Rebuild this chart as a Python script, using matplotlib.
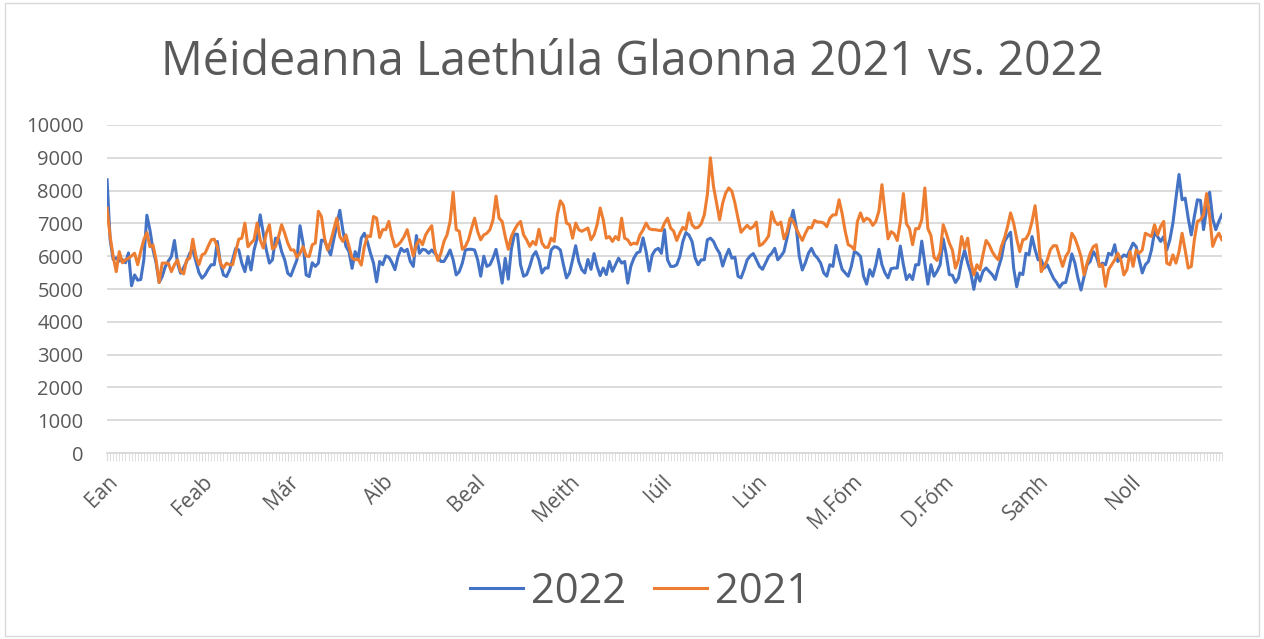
import matplotlib
matplotlib.use("Agg")
import matplotlib.pyplot as plt
from matplotlib.patches import Rectangle

# daily call volumes (day 0 = 1 Jan)
calls_2022 = [
    8330, 6500, 5900, 5950, 5850, 5900, 5800, 6100, 5100, 5430,
    5270, 5290, 5890, 7250, 6800, 6200, 5800, 5200, 5380, 5680,
    5850, 5990, 6480, 5790, 5480, 5650, 5840, 6090, 6190, 5840,
    5500, 5330, 5430, 5600, 5740, 5740, 6450, 5790, 5430, 5380,
    5580, 5900, 6240, 6190, 5790, 5530, 5990, 5580, 6190, 6550,
    7260, 6700, 6190, 5790, 5890, 6550, 6530, 6140, 5890, 5480,
    5400, 5650, 5890, 6930, 6400, 5430, 5380, 5800, 5690, 5790,
    6490, 6470, 6240, 6040, 6500, 6960, 7400, 6780, 6300, 6140,
    5630, 6140, 5940, 6550, 6700, 6440, 6090, 5790, 5220, 5840,
    5740, 6010, 5970, 5810, 5590, 5990, 6240, 6140, 6210, 5840,
    5690, 6630, 6090, 6210, 6190, 6090, 6190, 6090, 5990, 5840,
    5840, 6000, 6190, 5890, 5430, 5530, 5790, 6190, 6210, 6210,
    6190, 5890, 5390, 6000, 5690, 5740, 5940, 6210, 5740, 5180,
    5940, 5300, 6210, 6670, 6670, 5740, 5390, 5440, 5690, 6010,
    6140, 5890, 5490, 5640, 5640, 6190, 6290, 6270, 6190, 5740,
    5340, 5490, 5890, 6320, 5840, 5590, 5490, 5900, 5600, 6080,
    5690, 5410, 5640, 5440, 5840, 5540, 5740, 5940, 5790, 5840,
    5180, 5690, 5940, 6100, 6140, 6560, 6140, 5550, 6040, 6190,
    6240, 6090, 6810, 5890, 5690, 5690, 5740, 5990, 6450, 6720,
    6640, 6450, 5950, 5740, 5890, 5890, 6500, 6550, 6450, 6240,
    6090, 5700, 5990, 6210, 5940, 5970, 5390, 5340, 5590, 5890,
    6010, 6080, 5890, 5690, 5600, 5790, 5990, 6090, 6240, 5890,
    6000, 6140, 6550, 7000, 7400, 6900, 6000, 5580, 5800, 6090,
    6240, 6040, 5940, 5790, 5490, 5390, 5740, 5690, 6330, 5940,
    5600, 5490, 5390, 5690, 6140, 6090, 5990, 5390, 5150, 5590,
    5390, 5740, 6210, 5740, 5490, 5340, 5620, 5640, 5640, 6310,
    5740, 5290, 5440, 5290, 5740, 5740, 6460, 5790, 5150, 5740,
    5390, 5540, 5740, 6530, 6040, 5440, 5420, 5200, 5340, 5840,
    6180, 5790, 5490, 4990, 5490, 5240, 5540, 5640, 5540, 5440,
    5290, 5640, 5940, 6450, 6600, 6730, 5640, 5070, 5490, 5440,
    6090, 6040, 6600, 6200, 5890, 5890, 5640, 5740, 5530, 5330,
    5200, 5050, 5180, 5200, 5590, 6070, 5790, 5330, 4970, 5380,
    5740, 5840, 6140, 5990, 5690, 5790, 5740, 6090, 6040, 6350,
    5840, 5940, 6040, 5990, 6190, 6400, 6290, 5890, 5490, 5740,
    5840, 6190, 6740, 6600, 6450, 6600, 6190, 6500, 7010, 7770,
    8490, 7720, 7770, 7160, 6650, 7210, 7720, 7700, 6810, 7430,
    7950, 7140, 6810, 7060, 7270,
]

calls_2021 = [
    7470, 6600, 5990, 5530, 6140, 5800, 5890, 5940, 6010, 6090,
    5740, 6150, 6500, 6720, 6290, 6340, 5890, 5200, 5790, 5790,
    5790, 5530, 5740, 5890, 5540, 5460, 5890, 5940, 6520, 5990,
    5740, 6040, 6090, 6300, 6500, 6520, 6290, 5790, 5640, 5790,
    5740, 5740, 6140, 6520, 6550, 7010, 6290, 6400, 6500, 7010,
    6500, 6250, 6700, 6960, 6220, 6290, 6600, 6960, 6700, 6400,
    6190, 6190, 5970, 6090, 6290, 6010, 5990, 6350, 6400, 7370,
    7210, 6550, 6190, 6450, 6800, 7160, 6600, 6450, 6650, 6300,
    5940, 5890, 5910, 5730, 6290, 6620, 6600, 7210, 7160, 6570,
    6810, 6810, 7060, 6600, 6290, 6340, 6450, 6600, 6810, 6400,
    6010, 6350, 6500, 6350, 6650, 6800, 6930, 6190, 5870, 6090,
    6450, 6650, 7060, 7950, 6810, 6760, 6210, 6300, 6500, 6850,
    7160, 6750, 6500, 6650, 6700, 6810, 7100, 7830, 7160, 7060,
    6600, 6210, 6600, 6800, 6960, 7060, 6650, 6500, 6300, 6450,
    6350, 6820, 6400, 6270, 6270, 6550, 6450, 7260, 7690, 7550,
    7010, 6960, 6550, 7010, 6810, 6760, 6810, 6860, 6500, 6650,
    6960, 7470, 7110, 6550, 6600, 6450, 6600, 6500, 7160, 6550,
    6500, 6350, 6400, 6370, 6650, 6800, 7010, 6840, 6810, 6810,
    6790, 6780, 7010, 7160, 6860, 6760, 6480, 6700, 6880, 6810,
    7320, 6960, 6860, 6880, 6990, 7260, 7880, 9000, 8130, 7620,
    7110, 7620, 7930, 8080, 7980, 7620, 7160, 6730, 6840, 6940,
    6840, 6900, 7040, 6320, 6370, 6480, 6620, 7350, 7060, 6960,
    7040, 6530, 6730, 7160, 7060, 6850, 6650, 6480, 6700, 6880,
    6860, 7090, 7040, 7040, 7010, 6900, 7160, 7260, 7260, 7720,
    7300, 6760, 6350, 6300, 6200, 7060, 7320, 7060, 7160, 7110,
    6940, 7060, 7370, 8180, 7320, 6530, 6750, 6680, 6480, 7040,
    7910, 6990, 6840, 6350, 6840, 6840, 7110, 8080, 6840, 6630,
    5970, 5870, 6120, 6960, 6700, 6400, 6190, 5640, 5890, 6600,
    6240, 6550, 5840, 5430, 5740, 5590, 6050, 6480, 6350, 6140,
    5990, 5890, 6300, 6550, 6900, 7320, 7010, 6530, 6140, 6500,
    6530, 6700, 7060, 7540, 6700, 5530, 5690, 5890, 6200, 6320,
    6320, 5990, 5690, 5990, 6140, 6700, 6550, 6290, 5990, 5430,
    5790, 6090, 6290, 6350, 5690, 5740, 5080, 5590, 5740, 5890,
    6090, 5890, 5430, 5590, 6140, 5690, 6190, 6090, 6190, 6700,
    6650, 6600, 6960, 6650, 6910, 7060, 5790, 5740, 6040, 5790,
    6140, 6700, 6190, 5640, 5690, 6500, 7060, 7110, 7260, 7910,
    7210, 6300, 6550, 6700, 6500,
]

month_labels = ["Ean", "Feab", "Már", "Aib", "Beal", "Meith",
                "Iúil", "Lún", "M.Fóm", "D.Fóm", "Samh", "Noll"]
month_starts = [0, 31, 59, 90, 120, 151, 181, 212, 243, 273, 304, 334]

days = list(range(len(calls_2022)))
grey = "#595959"

plt.rcParams['font.family'] = ['Open Sans', 'DejaVu Sans']

fig = plt.figure(figsize=(12.64, 6.39), dpi=100)
ax = fig.add_axes([0.0847, 0.291, 0.882, 0.5134])

ax.plot(days, calls_2022, color="#4472C4", lw=2.2, label="2022")
ax.plot(days, calls_2021, color="#ED7D31", lw=2.2, label="2021")

ax.set_xlim(0, len(days) - 1)
ax.set_ylim(0, 10000)
ax.set_yticks(range(0, 10001, 1000))
ax.grid(axis="y", color="#d9d9d9", lw=1.3)
ax.set_axisbelow(True)

for s in ["top", "right", "left"]:
    ax.spines[s].set_visible(False)
ax.spines["bottom"].set_color("#d9d9d9")
ax.spines["bottom"].set_linewidth(1.3)

ax.tick_params(axis="y", length=0, labelsize=14.5, labelcolor=grey, pad=17)
ax.set_xticks(month_starts)
ax.set_xticklabels(month_labels, rotation=45, ha="right", va="top",
                   rotation_mode="anchor")
ax.set_xticks(days, minor=True)
ax.tick_params(axis="x", which="both", length=6, color="#d9d9d9",
               labelsize=15, labelcolor=grey, pad=7)

fig.text(0.5, 0.903, "Méideanna Laethúla Glaonna 2021 vs. 2022",
         ha="center", va="center", fontsize=33.5, color=grey)

fig.legend(loc="center", bbox_to_anchor=(0.5065, 0.074), ncol=2,
           frameon=False, fontsize=30, labelcolor=grey, handlelength=1.27,
           handletextpad=0.2, columnspacing=0.65)

fig.patches.append(Rectangle((0.004, 0.004), 0.992, 0.992,
                             transform=fig.transFigure, fill=False,
                             edgecolor="#d9d9d9", lw=1))

fig.savefig("out.png", dpi=100)
